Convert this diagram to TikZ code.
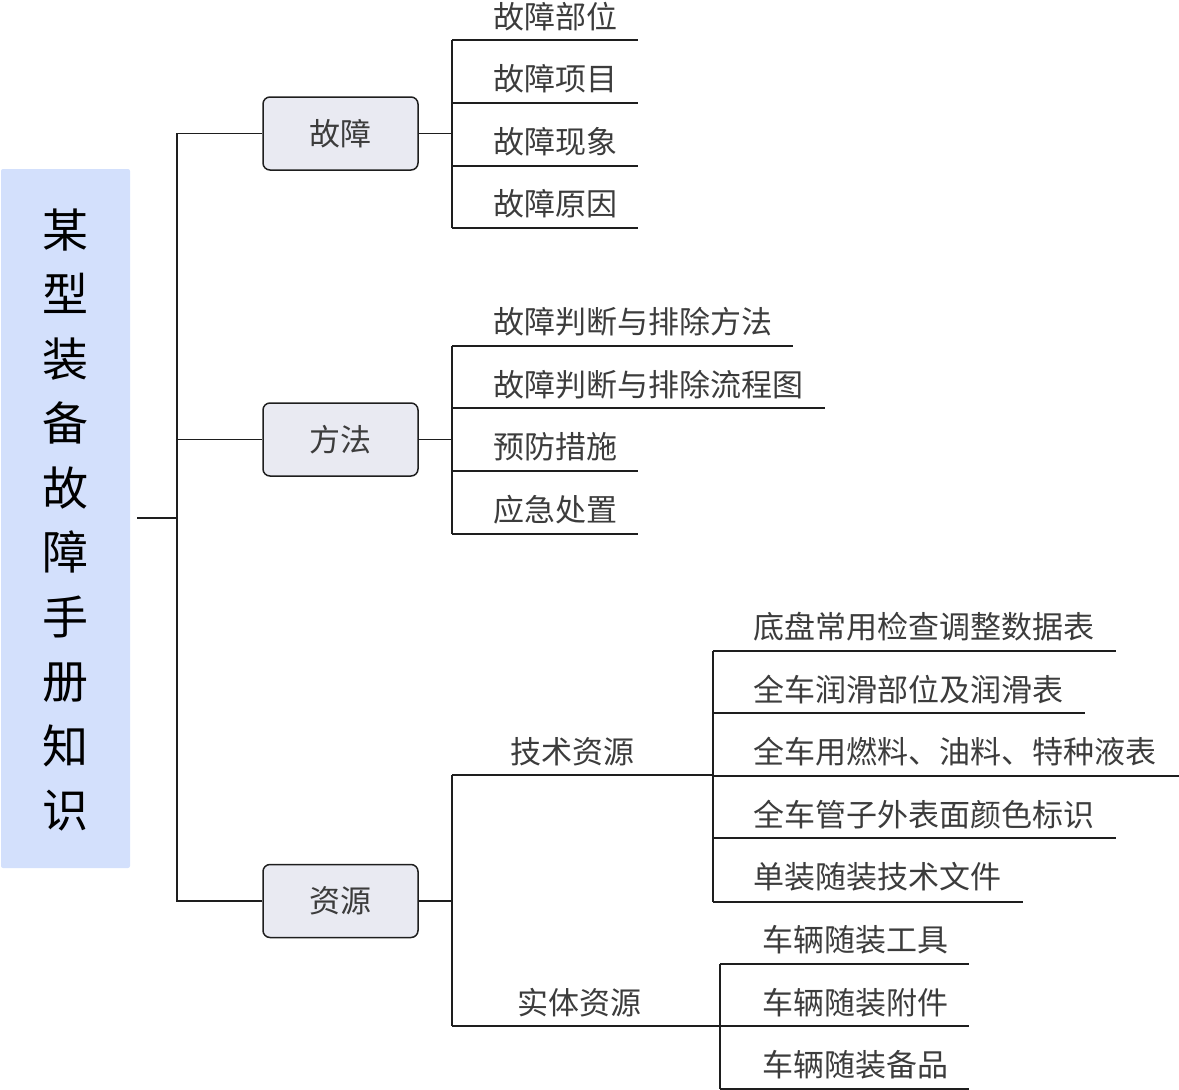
\documentclass[tikz,border=0pt]{standalone}
\usepackage{fontspec}
\setmainfont{Noto Sans CJK SC}
\definecolor{rootblue}{HTML}{D3E0FC}
\definecolor{branchfill}{HTML}{E9EAF2}
\definecolor{textgray}{HTML}{3C3C3C}
\definecolor{linecol}{HTML}{1E1E1E}
\begin{document}
\begin{tikzpicture}[x=1pt,y=-1pt,
  conn/.style={draw=linecol, line width=1.6pt},
  rootbox/.style={fill=rootblue, draw=none, rounded corners=2pt, minimum width=129pt, minimum height=699pt, inner sep=0pt},
  roottext/.style={align=center, inner sep=0pt, font=\fontsize{46}{64.5}\selectfont, text=black},
  branch/.style={draw=linecol, line width=1.5pt, fill=branchfill, rounded corners=7pt, minimum width=155pt, minimum height=73pt, inner sep=0pt, font=\fontsize{31}{31}\selectfont, text=textgray},
  leaf/.style={anchor=west, inner sep=0pt, font=\fontsize{31}{31}\selectfont, text=textgray}]
\useasboundingbox (0,0) rectangle (1179,1090);

% root
\node[rootbox] (root) at (65.5,518.5) {};
\node[roottext] (roottxt) at (65.5,520) {某\\型\\装\\备\\故\\障\\手\\册\\知\\识};

% branches
\node[branch] (gz) at (340.5,133.5) {故障};
\node[branch] (ff) at (340.5,439.5) {方法};
\node[branch] (zy) at (340.5,901) {资源};

% root connectors
\coordinate (r0) at (137,518);
\coordinate (rj) at (177,518);
\draw[conn] (r0) -- (rj);
\draw[conn] (gz.west) -| (rj) |- (zy.west);
\draw[conn] (rj) |- (ff.west);

% ---- 故障 group
\node[leaf] (g1) at (493,17) {故障部位};
\node[leaf] (g2) at (493,79) {故障项目};
\node[leaf] (g3) at (493,142) {故障现象};
\node[leaf] (g4) at (493,204) {故障原因};
\coordinate (gj) at (452,133.5);
\draw[conn] (gz.east) -- (gj);
\draw[conn] (452,40) -- (638,40);
\draw[conn] (452,103) -- (638,103);
\draw[conn] (452,166) -- (638,166);
\draw[conn] (452,228) -- (638,228);
\draw[conn] (452,40) -- (452,228);

% ---- 方法 group
\node[leaf] (f1) at (493,322) {故障判断与排除方法};
\node[leaf] (f2) at (493,385) {故障判断与排除流程图};
\node[leaf] (f3) at (493,447) {预防措施};
\node[leaf] (f4) at (493,510) {应急处置};
\coordinate (fj) at (452,439.5);
\draw[conn] (ff.east) -- (fj);
\draw[conn] (452,346) -- (793,346);
\draw[conn] (452,408) -- (825,408);
\draw[conn] (452,471) -- (638,471);
\draw[conn] (452,534) -- (638,534);
\draw[conn] (452,346) -- (452,534);

% ---- 资源 group
\node[leaf] (js) at (510,752) {技术资源};
\node[leaf] (st) at (517,1003) {实体资源};
\coordinate (zj) at (452,901);
\draw[conn] (zy.east) -- (zj);
\draw[conn] (452,775) -- (713,775);
\draw[conn] (452,1026) -- (720,1026);
\draw[conn] (452,775) -- (452,1026);

% 技术资源 children
\node[leaf] (j1) at (753,627) {底盘常用检查调整数据表};
\node[leaf] (j2) at (753,690) {全车润滑部位及润滑表};
\node[leaf] (j3) at (753,752) {全车用燃料、油料、特种液表};
\node[leaf] (j4) at (753,815) {全车管子外表面颜色标识};
\node[leaf] (j5) at (753,877) {单装随装技术文件};
\draw[conn] (713,651) -- (1116,651);
\draw[conn] (713,713) -- (1085,713);
\draw[conn] (713,776) -- (1179,776);
\draw[conn] (713,838) -- (1116,838);
\draw[conn] (713,902) -- (1023,902);
\draw[conn] (713,651) -- (713,902);

% 实体资源 children
\node[leaf] (s1) at (762,940) {车辆随装工具};
\node[leaf] (s2) at (762,1003) {车辆随装附件};
\node[leaf] (s3) at (762,1065) {车辆随装备品};
\draw[conn] (720,964) -- (969,964);
\draw[conn] (720,1026) -- (969,1026);
\draw[conn] (720,1089) -- (969,1089);
\draw[conn] (720,964) -- (720,1089);
\end{tikzpicture}
\end{document}
